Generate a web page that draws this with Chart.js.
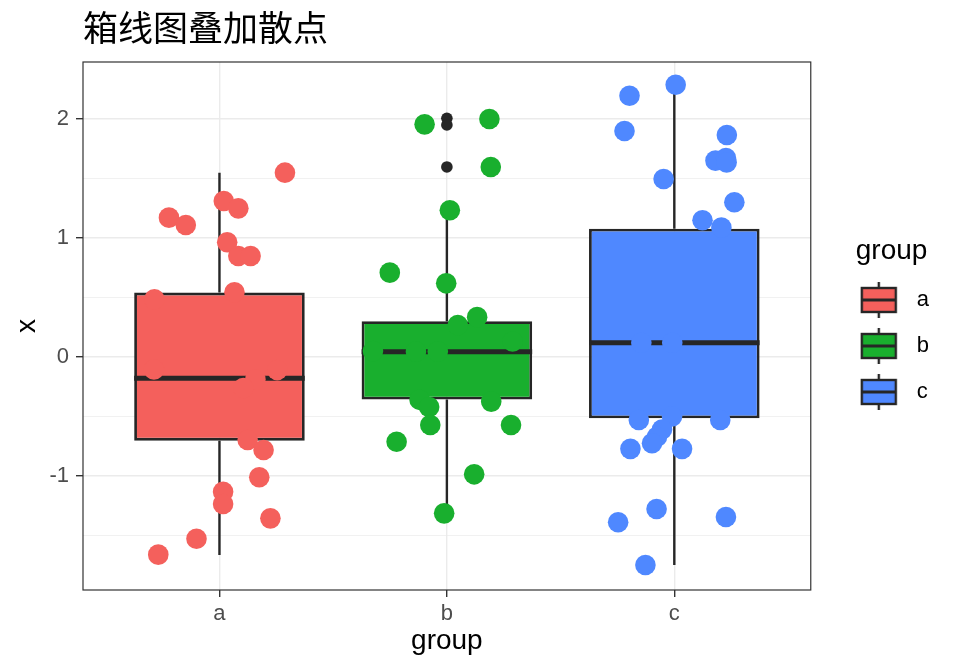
<!DOCTYPE html>
<html>
<head>
<meta charset="utf-8">
<script src="https://cdn.jsdelivr.net/npm/chart.js@4.4.1/dist/chart.umd.min.js"></script>
<style>
  html, body { margin: 0; padding: 0; background: #fff; }
  #wrap { width: 960px; height: 672px; }
</style>
</head>
<body>
<div id="wrap"><canvas id="chart"></canvas></div>
<script>
// categories + colours
const groups = ['a', 'b', 'c'];
const colors = ['#F4605C', '#19AF2E', '#4F88FF'];

// box stats
const whiskerLow  = [-1.664, -1.314, -1.748];
const q1          = [-0.703, -0.357, -0.515];
const medians     = [-0.178,  0.045,  0.120];
const q3          = [ 0.541,  0.300,  1.078];
const whiskerHigh = [ 1.549,  1.233,  2.288];
const outliersB   = [2.006, 1.950, 1.597];

// jittered points: horizontal jitter (in category units) and value
const jitterA = [0.288, 0.019, 0.083, -0.222, -0.148, 0.034, 0.083, 0.137, -0.286, 0.066, -0.288, 0.158, 0.105, 0.254, 0.124, 0.194, 0.175, 0.016, 0.016, 0.224, -0.101, -0.269];
const valuesA = [1.549, 1.311, 1.249, 1.171, 1.109, 0.964, 0.849, 0.849, 0.485, 0.544, -0.105, -0.19, -0.26, -0.11, -0.697, -0.782, -1.011, -1.132, -1.235, -1.356, -1.527, -1.661];
const jitterB = [-0.098, 0.187, 0.193, 0.013, -0.251, -0.003, 0.133, 0.048, 0.289, -0.325, -0.136, -0.04, -0.12, -0.078, -0.073, 0.195, 0.282, -0.221, 0.12, -0.012];
const valuesB = [1.955, 2.0, 1.597, 1.233, 0.709, 0.619, 0.335, 0.269, 0.13, 0.05, 0.045, 0.045, -0.36, -0.42, -0.571, -0.375, -0.571, -0.712, -0.986, -1.314];
const jitterC = [0.006, -0.197, -0.219, 0.231, 0.181, 0.227, 0.23, -0.047, 0.264, 0.124, 0.207, -0.145, -0.009, -0.156, 0.202, -0.01, -0.054, -0.076, -0.098, -0.193, 0.034, -0.078, -0.247, 0.227, -0.127];
const valuesC = [2.288, 2.196, 1.899, 1.866, 1.65, 1.672, 1.635, 1.496, 1.30, 1.149, 1.087, 0.12, 0.12, -0.53, -0.53, -0.50, -0.61, -0.67, -0.725, -0.772, -0.772, -1.277, -1.389, -1.345, -1.748];

// axis ticks
const yMajor = [-1, 0, 1, 2];
const yMinor = [-1.5, -0.5, 0.5, 1.5];

const jitters = [jitterA, jitterB, jitterC];
const values = [valuesA, valuesB, valuesC];
const BOX_W = 0.75;
const DARK = '#262626';
const sans = "'Liberation Sans', Arial, sans-serif";

Chart.defaults.font.family = sans;

// boxplot glyph for the legend keys
function makeKey(fill) {
  const c = document.createElement('canvas');
  c.width = 66; c.height = 40;
  const g = c.getContext('2d');
  const cx = 19;
  g.strokeStyle = DARK;
  g.lineWidth = 2.4;
  g.beginPath(); g.moveTo(cx, 2); g.lineTo(cx, 38); g.stroke();
  g.fillStyle = fill;
  g.fillRect(cx - 17, 8, 34, 24);
  g.strokeRect(cx - 17, 8, 34, 24);
  g.lineWidth = 3;
  g.beginPath(); g.moveTo(cx - 17, 20); g.lineTo(cx + 17, 20); g.stroke();
  return c;
}
const keys = colors.map(makeKey);

const seg = (data, width, order) => ({
  type: 'line', data: data, showLine: true, borderColor: DARK, borderWidth: width,
  pointRadius: 0, fill: false, order: order
});

const datasets = [];
groups.forEach((g, i) => {
  datasets.push({
    type: 'scatter', label: g,
    data: values[i].map((v, k) => ({ x: i + jitters[i][k], y: v })),
    backgroundColor: colors[i], borderWidth: 0, pointRadius: 10.3, pointHoverRadius: 10.3, order: 1
  });
});
datasets.push({
  type: 'scatter', label: 'outliers',
  data: outliersB.map(v => ({ x: 1, y: v })),
  backgroundColor: DARK, borderWidth: 0, pointRadius: 5.8, order: 2
});
groups.forEach((g, i) => {
  datasets.push(seg([{ x: i - BOX_W / 2, y: medians[i] }, { x: i + BOX_W / 2, y: medians[i] }], 5, 3));
});
datasets.push({
  type: 'bar', label: 'box',
  data: groups.map((g, i) => ({ x: i, y: [q1[i], q3[i]] })),
  backgroundColor: colors, borderColor: DARK, borderWidth: 2.8, borderSkipped: false,
  categoryPercentage: 1, barPercentage: BOX_W, order: 4
});
groups.forEach((g, i) => {
  datasets.push(seg([{ x: i, y: q3[i] }, { x: i, y: whiskerHigh[i] }], 2.4, 5));
  datasets.push(seg([{ x: i, y: q1[i] }, { x: i, y: whiskerLow[i] }], 2.4, 5));
});

const panelBorder = {
  id: 'panelBorder',
  afterDatasetsDraw(chart) {
    const { ctx, chartArea: a } = chart;
    ctx.save();
    ctx.strokeStyle = '#333333';
    ctx.lineWidth = 1.2;
    ctx.strokeRect(a.left, a.top, a.width, a.height);
    ctx.restore();
  }
};

new Chart(document.getElementById('chart'), {
  type: 'scatter',
  data: { datasets: datasets },
  options: {
    responsive: true,
    maintainAspectRatio: false,
    animation: false,
    events: [],
    layout: { padding: { left: 0, right: 21, top: 0, bottom: 0 } },
    scales: {
      x: {
        type: 'linear', min: -0.6, max: 2.6, offset: false,
        afterBuildTicks: s => { s.ticks = groups.map((g, i) => ({ value: i })); },
        afterFit: s => { s.height = 82; },
        ticks: { callback: (v, i) => groups[i], color: '#4D4D4D', font: { size: 22 }, padding: 4, maxRotation: 0, autoSkip: false },
        grid: { offset: false, color: '#EBEBEB', lineWidth: 1.4, tickColor: '#333333', tickLength: 7, tickWidth: 1.4 },
        border: { display: false },
        title: { display: true, text: 'group', color: '#000', font: { size: 28 }, padding: { top: 0, bottom: 14 } }
      },
      y: {
        type: 'linear', min: -1.958, max: 2.479,
        afterBuildTicks: s => { s.ticks = yMajor.concat(yMinor).sort((p, q) => p - q).map(v => ({ value: v })); },
        afterFit: s => { s.width = 83; },
        ticks: { callback: v => yMajor.includes(v) ? String(v) : '', color: '#4D4D4D', font: { size: 22 }, padding: 7 },
        grid: {
          color: '#EBEBEB',
          lineWidth: c => yMajor.includes(c.tick.value) ? 1.4 : 0.7,
          tickColor: c => yMajor.includes(c.tick.value) ? '#333333' : 'rgba(0,0,0,0)',
          tickLength: 7, tickWidth: 1.4
        },
        border: { display: false },
        title: { display: true, text: 'x', color: '#000', font: { size: 28 }, padding: { top: 10, bottom: 0 } }
      },
      gap: {
        type: 'linear', position: 'right', display: true,
        ticks: { display: false }, grid: { display: false }, border: { display: false },
        afterFit: s => { s.width = 45; }
      }
    },
    plugins: {
      tooltip: { enabled: false },
      title: {
        display: true, text: '箱线图叠加散点', align: 'start', fullSize: false, color: '#000',
        font: { family: "'Noto Sans CJK SC', sans-serif", size: 35, weight: 'normal', lineHeight: 1.2 },
        padding: { top: 7, bottom: 13 }
      },
      legend: {
        position: 'right', align: 'center', fullSize: false,
        title: { display: true, text: 'group', position: 'start', color: '#000', font: { size: 28, lineHeight: 1 }, padding: { top: 12, bottom: 0 } },
        labels: {
          usePointStyle: true, boxWidth: 26, pointStyleWidth: 26, padding: 24,
          color: '#000', font: { size: 22 },
          generateLabels: () => groups.map((g, i) => ({
            text: g, pointStyle: keys[i], fillStyle: colors[i], strokeStyle: DARK, lineWidth: 0, hidden: false, datasetIndex: i
          }))
        }
      }
    }
  },
  plugins: [panelBorder]
});
</script>
</body>
</html>
